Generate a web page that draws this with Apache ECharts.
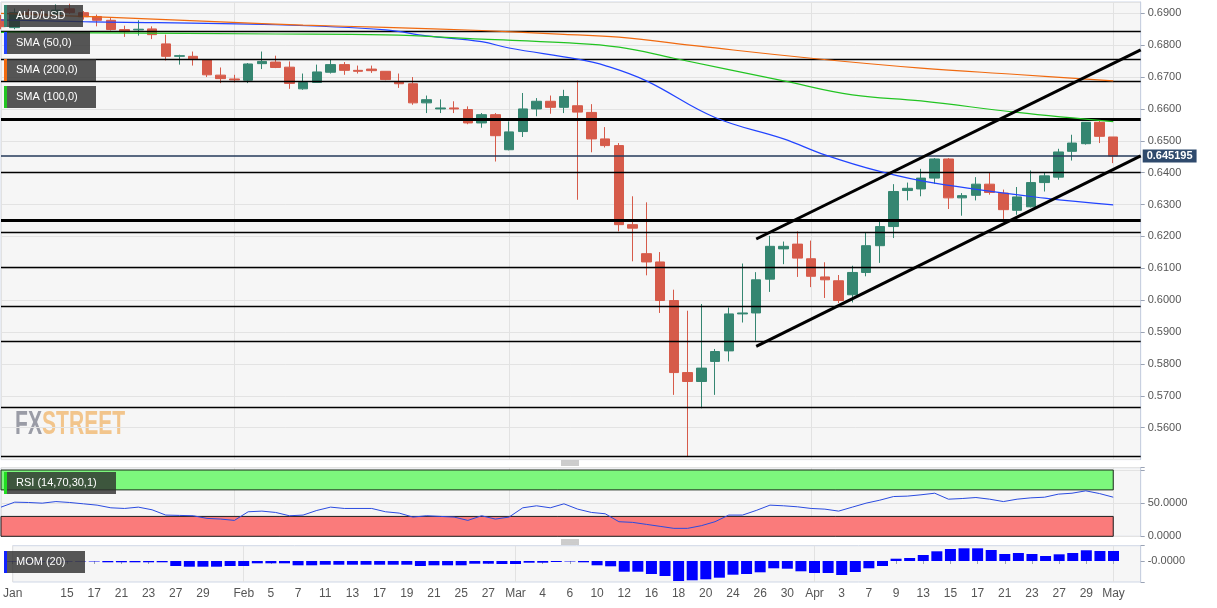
<!DOCTYPE html>
<html>
<head>
<meta charset="utf-8">
<title>AUD/USD</title>
<script src="https://cdn.jsdelivr.net/npm/echarts@6/dist/echarts.min.js"></script>
<style>
  html, body { margin: 0; padding: 0; background: #fff; }
  #chart { width: 1217px; height: 608px; }
</style>
</head>
<body>
<div id="chart"></div>
<script>
// trading days, plus two empty slots after the last candle
const dates = ['Jan 9','Jan 10','Jan 13','Jan 14','Jan 15','Jan 16','Jan 17','Jan 20','Jan 21','Jan 22','Jan 23','Jan 24','Jan 27','Jan 28','Jan 29','Jan 30','Jan 31',
  'Feb 3','Feb 4','Feb 5','Feb 6','Feb 7','Feb 10','Feb 11','Feb 12','Feb 13','Feb 14','Feb 17','Feb 18','Feb 19','Feb 20','Feb 21','Feb 24','Feb 25','Feb 26','Feb 27','Feb 28',
  'Mar 2','Mar 3','Mar 4','Mar 5','Mar 6','Mar 9','Mar 10','Mar 11','Mar 12','Mar 13','Mar 16','Mar 17','Mar 18','Mar 19','Mar 20','Mar 23','Mar 24','Mar 25','Mar 26','Mar 27','Mar 30','Mar 31',
  'Apr 1','Apr 2','Apr 3','Apr 6','Apr 7','Apr 8','Apr 9','Apr 10','Apr 13','Apr 14','Apr 15','Apr 16','Apr 17','Apr 20','Apr 21','Apr 22','Apr 23','Apr 24','Apr 27','Apr 28','Apr 29','Apr 30',
  'May 1','May 4','May 5']

const tickLabels = ['Jan','','','','15','','17','','21','','23','','27','','29','','',
  'Feb','','5','','7','','11','','13','','17','','19','','21','','25','','27','',
  'Mar','','4','','6','','10','','12','','16','','18','','20','','24','','26','','30','',
  'Apr','','3','','7','','9','','13','','15','','17','','21','','23','','27','','29','',
  'May','','']

const monthStarts = [0, 17, 37, 59, 81]

// [open, close, low, high]
const candles = [
  [0.6880,0.6858,0.6850,0.6895],[0.6855,0.6902,0.6850,0.6915],[0.6902,0.6898,0.6888,0.6913],[0.6898,0.6895,0.6885,0.6912],
  [0.6895,0.6910,0.6890,0.6928],[0.6914,0.6902,0.6898,0.6930],[0.6902,0.6889,0.6880,0.6907],[0.6890,0.6878,0.6859,0.6896],
  [0.6878,0.6849,0.6846,0.6885],[0.6849,0.6842,0.6826,0.6861],[0.6848,0.6850,0.6830,0.6878],[0.6851,0.6833,0.6819,0.6859],
  [0.6804,0.6765,0.6752,0.6833],[0.6765,0.6767,0.6739,0.6770],[0.6765,0.6757,0.6736,0.6780],[0.6754,0.6707,0.6700,0.6755],
  [0.6706,0.6695,0.6681,0.6730],[0.6694,0.6691,0.6683,0.6707],[0.6690,0.6741,0.6681,0.6744],[0.6742,0.6749,0.6725,0.6780],
  [0.6747,0.6730,0.6728,0.6767],[0.6731,0.6680,0.6663,0.6749],[0.6663,0.6683,0.6660,0.6711],[0.6683,0.6716,0.6683,0.6739],
  [0.6715,0.6739,0.6711,0.6754],[0.6739,0.6721,0.6707,0.6747],[0.6721,0.6718,0.6711,0.6736],[0.6725,0.6720,0.6713,0.6736],
  [0.6718,0.6692,0.6690,0.6718],[0.6686,0.6679,0.6666,0.6711],[0.6679,0.6619,0.6613,0.6700],[0.6619,0.6629,0.6587,0.6642],
  [0.6600,0.6603,0.6587,0.6630],[0.6603,0.6600,0.6587,0.6624],[0.6598,0.6556,0.6552,0.6608],[0.6556,0.6582,0.6541,0.6587],
  [0.6582,0.6516,0.6435,0.6587],[0.6472,0.6528,0.6470,0.6561],[0.6529,0.6600,0.6512,0.6650],[0.6600,0.6624,0.6577,0.6634],
  [0.6624,0.6605,0.6585,0.6642],[0.6605,0.6639,0.6587,0.6660],[0.6610,0.6590,0.6315,0.6689],[0.6589,0.6506,0.6464,0.6615],
  [0.6506,0.6485,0.6479,0.6543],[0.6485,0.6237,0.6216,0.6493],[0.6237,0.6226,0.6122,0.6326],[0.6146,0.6120,0.6078,0.6307],
  [0.6120,0.5999,0.5960,0.6151],[0.5999,0.5773,0.5703,0.6033],[0.5773,0.5745,0.5508,0.5967],[0.5745,0.5787,0.5661,0.5988],
  [0.5808,0.5839,0.5703,0.5847],[0.5841,0.5957,0.5808,0.5977],[0.5957,0.5960,0.5930,0.6115],[0.5960,0.6064,0.5873,0.6088],
  [0.6066,0.6169,0.6026,0.6202],[0.6161,0.6169,0.6113,0.6184],[0.6176,0.6132,0.6073,0.6216],[0.6130,0.6075,0.6041,0.6187],
  [0.6073,0.6064,0.6007,0.6119],[0.6061,0.5999,0.5991,0.6079],[0.6017,0.6087,0.5993,0.6108],[0.6087,0.6171,0.6075,0.6213],
  [0.6171,0.6231,0.6117,0.6247],[0.6231,0.6341,0.6195,0.6364],[0.6344,0.6351,0.6313,0.6369],[0.6349,0.6383,0.6326,0.6412],
  [0.6383,0.6443,0.6365,0.6446],[0.6443,0.6321,0.6286,0.6446],[0.6321,0.6328,0.6265,0.6336],[0.6329,0.6364,0.6313,0.6386],
  [0.6364,0.6338,0.6331,0.6401],[0.6336,0.6284,0.6255,0.6347],[0.6282,0.6324,0.6268,0.6355],[0.6293,0.6369,0.6291,0.6407],
  [0.6369,0.6390,0.6341,0.6401],[0.6386,0.6465,0.6378,0.6475],[0.6467,0.6493,0.6438,0.6519],[0.6491,0.6558,0.6488,0.6559],
  [0.6558,0.6514,0.6493,0.6563],[0.6512,0.645195,0.6430,0.6512]
]

// moving averages, read at [day index, value]
const sma50 = [[0,0.6879],[6,0.6874],[20,0.6864],[28,0.6848],[31,0.6829],[35,0.6811],[37,0.6791],[42,0.6756],[44,0.6736],
  [47,0.6688],[52,0.6573],[57,0.6506],[60,0.6456],[64,0.6404],[68,0.6367],[76,0.6320],[81,0.6299]]
const sma100 = [[0,0.6840],[20,0.6835],[28,0.6832],[35,0.6819],[41,0.6808],[45,0.6794],[49,0.6759],[57,0.6688],[62,0.6644],
  [67,0.6625],[74,0.6589],[81,0.6560]]
const sma200 = [[0,0.6900],[8,0.6887],[16,0.6873],[22,0.6863],[28,0.6856],[35,0.6846],[41,0.6834],[45,0.6825],[51,0.6796],
  [59,0.6759],[67,0.6728],[74,0.6708],[81,0.6688]]

const channelUpper = [[55,0.6192],[83,0.6785]]
const channelLower = [[55,0.5855],[83,0.6453]]

const thinLevels = [0.6845,0.6756,0.6686,0.6402,0.6212,0.6104,0.5981,0.5872,0.5664,0.5511]
const thickLevels = [0.6568,0.6252]
const lastPrice = 0.645195

const rsi = [44,51.5,51,50,52.4,51,49,47,43,42,44,40,32,31.5,31,27,26,24,37,38,36,31,32,39,44,42,42,42,37,35,
  29,31,30,29,24,31,26,29,43,46,43,49,41,36,34,22,21,18,15,12,12,16,22,32,32,39,47,46,44.5,42,
  41,38,44,50,54.5,60,60.6,62.6,65,56,57,58.5,56,52.4,56,58,59,63.6,65,68.6,64.5,59]

const mom = [-0.002,-0.002,-0.002,-0.002,-0.002,-0.002,-0.002,-0.0055,-0.0055,-0.0055,-0.0055,-0.0055,
  -0.0214,-0.0244,-0.0244,-0.0244,-0.0214,-0.0214,-0.0099,-0.0099,-0.0099,-0.0184,-0.0184,-0.0159,
  -0.0159,-0.0159,-0.0159,-0.0159,-0.0159,-0.0159,-0.0214,-0.0184,-0.0184,-0.0184,-0.0116,-0.0116,
  -0.0129,-0.0129,-0.0073,-0.0073,-0.0043,-0.002,-0.0056,-0.0184,-0.0227,-0.0459,-0.0459,-0.0557,
  -0.0643,-0.0857,-0.0827,-0.0784,-0.0716,-0.0587,-0.0557,-0.0484,-0.0313,-0.033,-0.0441,-0.0514,
  -0.0514,-0.06,-0.0471,-0.0313,-0.0214,0.0099,0.0129,0.0257,0.0416,0.0514,0.0544,0.0544,
  0.0471,0.03,0.0343,0.03,0.0214,0.0287,0.0343,0.0459,0.0429,0.0429]

const GREEN = '#358671'
const RED = '#d65b4a'
const FONT = '"Liberation Sans", Arial, sans-serif'

const chart = echarts.init(document.getElementById('chart'), null, { renderer: 'canvas' })

const gridBase = { left: 1, width: 1139.7, show: true, backgroundColor: '#f6f6f6', borderColor: '#cfd7e6', borderWidth: 1 }

function catAxis(gridIndex, withLabels) {
  return {
    type: 'category',
    gridIndex,
    data: dates,
    boundaryGap: false,
    axisLine: { show: false },
    axisTick: withLabels
      ? { show: true, length: 3, interval: (i) => tickLabels[i] !== '', lineStyle: { color: '#9aa3b5' } }
      : { show: false },
    axisLabel: withLabels
      ? { show: true, interval: (i) => tickLabels[i] !== '', formatter: (v, i) => tickLabels[i],
          color: '#555', fontSize: 12, fontFamily: FONT, margin: 6 }
      : { show: false },
    splitLine: { show: true, interval: (i) => monthStarts.includes(i), lineStyle: { color: '#e2e2e2', width: 1 } },
  }
}

const levelLines = [
  ...thinLevels.map((v) => ({ yAxis: v, lineStyle: { color: '#000', width: 1.3, type: 'solid' } })),
  ...thickLevels.map((v) => ({ yAxis: v, lineStyle: { color: '#000', width: 3.2, type: 'solid' } })),
  {
    yAxis: lastPrice,
    lineStyle: { color: '#253a5a', width: 1.5, type: 'solid' },
    label: {
      show: true, position: 'end', distance: 2, formatter: lastPrice.toFixed(6),
      backgroundColor: '#2f4a6d', color: '#fff', fontWeight: 'bold', fontSize: 11,
      fontFamily: FONT, padding: [1, 4, 1, 4],
    },
  },
]

function legendBox(y, w, stripColor, text) {
  return [
    { type: 'rect', shape: { x: 4, y: y, width: w, height: 22 }, style: { fill: 'rgba(45,45,45,0.8)' }, z: 100 },
    { type: 'rect', shape: { x: 4, y: y, width: 3, height: 22 }, style: { fill: stripColor }, z: 101 },
    { type: 'text', x: 16, y: y + 11, style: { text, fill: '#fff', font: '11px ' + FONT, verticalAlign: 'middle' }, z: 101 },
  ]
}

function handle(y) {
  return [0, 2, 4].map((d) => ({
    type: 'line', shape: { x1: 561, y1: y + d, x2: 579, y2: y + d },
    style: { stroke: '#9a9a9a', lineWidth: 1 }, z: 100,
  }))
}

const option = {
  animation: false,
  backgroundColor: '#fff',
  grid: [
    { ...gridBase, top: 2, height: 457.6 },
    { ...gridBase, top: 467.7, height: 68.6 },
    { ...gridBase, top: 545.7, height: 36.3 },
  ],
  xAxis: [catAxis(0, false), catAxis(1, false), catAxis(2, true)],
  yAxis: [
    {
      type: 'value', gridIndex: 0, position: 'right',
      min: 0.55, max: 0.69354, interval: 0.01,
      axisLine: { show: true, lineStyle: { color: '#c8d0e0' } },
      axisTick: { show: true, length: 4, lineStyle: { color: '#9aa3b5' } },
      axisLabel: { color: '#555', fontSize: 11, fontFamily: FONT, margin: 7,
        showMinLabel: false, showMaxLabel: false, formatter: (v) => v.toFixed(4) },
      splitLine: { show: true, lineStyle: { color: '#e3e3e3' } },
    },
    {
      type: 'value', gridIndex: 1, position: 'right',
      min: 0, max: 103.5, interval: 50,
      axisLine: { show: true, lineStyle: { color: '#c8d0e0' } },
      axisTick: { show: true, length: 4, lineStyle: { color: '#9aa3b5' } },
      axisLabel: { color: '#555', fontSize: 11, fontFamily: FONT, margin: 7,
        formatter: (v) => (v === 0 || v === 50 ? v.toFixed(4) : '') },
      splitLine: { show: true, lineStyle: { color: '#e3e3e3' } },
    },
    {
      type: 'value', gridIndex: 2, position: 'right',
      min: -0.09, max: 0.0656, interval: 0.09,
      axisLine: { show: true, lineStyle: { color: '#c8d0e0' } },
      axisTick: { show: true, length: 4, lineStyle: { color: '#9aa3b5' } },
      axisLabel: { color: '#555', fontSize: 11, fontFamily: FONT, margin: 7,
        formatter: (v) => (v === 0 ? '-0.0000' : '') },
      splitLine: { show: false },
    },
  ],
  series: [
    {
      name: 'AUD/USD',
      type: 'candlestick',
      xAxisIndex: 0, yAxisIndex: 0,
      data: candles,
      barWidth: 10,
      itemStyle: { color: GREEN, color0: RED, borderColor: GREEN, borderColor0: RED, borderWidth: 1 },
      markLine: { silent: true, precision: 6, symbol: ['none', 'none'], label: { show: false }, data: levelLines, z: 3 },
    },
    { name: 'SMA (50,0)', type: 'line', xAxisIndex: 0, yAxisIndex: 0, data: sma50, smooth: 0.4,
      showSymbol: false, lineStyle: { color: '#2244ff', width: 1.2 } },
    { name: 'SMA (200,0)', type: 'line', xAxisIndex: 0, yAxisIndex: 0, data: sma200, smooth: 0.4,
      showSymbol: false, lineStyle: { color: '#f06a10', width: 1.2 } },
    { name: 'SMA (100,0)', type: 'line', xAxisIndex: 0, yAxisIndex: 0, data: sma100, smooth: 0.4,
      showSymbol: false, lineStyle: { color: '#22c422', width: 1.2 } },
    { name: 'channel up', type: 'line', xAxisIndex: 0, yAxisIndex: 0, data: channelUpper,
      showSymbol: false, lineStyle: { color: '#000', width: 3 }, z: 4 },
    { name: 'channel down', type: 'line', xAxisIndex: 0, yAxisIndex: 0, data: channelLower,
      showSymbol: false, lineStyle: { color: '#000', width: 3 }, z: 4 },
    {
      name: 'RSI', type: 'line', xAxisIndex: 1, yAxisIndex: 1, data: rsi,
      showSymbol: false, lineStyle: { color: '#2a4be0', width: 1 }, z: 5,
      markArea: {
        silent: true,
        data: [
          [{ xAxis: dates[0], yAxis: 70, itemStyle: { color: '#7df77d', borderColor: '#1d2b1d', borderWidth: 1 } },
           { xAxis: dates[81], yAxis: 100 }],
          [{ xAxis: dates[0], yAxis: 0, itemStyle: { color: '#fa7b7b', borderColor: '#1d1d1d', borderWidth: 1 } },
           { xAxis: dates[81], yAxis: 30 }],
        ],
      },
    },
    { name: 'MOM', type: 'bar', xAxisIndex: 2, yAxisIndex: 2, data: mom, barWidth: 11,
      itemStyle: { color: '#0000ff' } },
  ],
  graphic: [
    ...legendBox(5, 79, GREEN, 'AUD/USD'),
    ...legendBox(32, 86, '#2244ff', 'SMA (50,0)'),
    ...legendBox(59, 92, '#f06a10', 'SMA (200,0)'),
    ...legendBox(86, 92, '#22c422', 'SMA (100,0)'),
    ...legendBox(472, 112, '#22dd22', 'RSI (14,70,30,1)'),
    ...legendBox(551, 81, '#1122ff', 'MOM (20)'),
    ...handle(461),
    ...handle(540),
    {
      type: 'group', x: 15, y: 424.5, scaleX: 0.62, z: 90,
      children: [
        { type: 'text', x: 0, y: 0, style: { text: 'FX', fill: '#9a9ca6', font: 'bold 34px ' + FONT, verticalAlign: 'middle' } },
        { type: 'text', x: 43.5, y: 0, style: { text: 'STREET', fill: '#f2c58c', font: 'bold 34px ' + FONT, verticalAlign: 'middle' } },
      ],
    },
  ],
}

chart.setOption(option)
</script>
</body>
</html>
